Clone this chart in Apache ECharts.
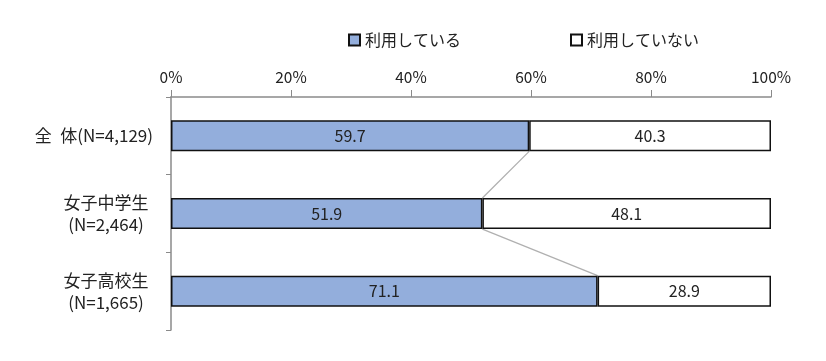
<!DOCTYPE html>
<html><head><meta charset="utf-8">
<script src="https://cdn.jsdelivr.net/npm/echarts@6/dist/echarts.min.js"></script>
<style>html,body{margin:0;padding:0;background:#fff}#c{width:826px;height:361px}</style>
</head><body><div id="c"></div>
<script>
const categories = ['全\u2002体(N=4,129)', '女子中学生\n(N=2,464)', '女子高校生\n(N=1,665)'];
const seriesNames = ['利用している', '利用していない'];
const usingVals = [59.7, 51.9, 71.1];
const notUsingVals = [40.3, 48.1, 28.9];
const xTicks = [0, 20, 40, 60, 80, 100];

const FONT = '"Noto Sans CJK JP", sans-serif';
const BAR_RATIO = 0.4;
const chart = echarts.init(document.getElementById('c'));
chart.setOption({
  animation: false,
  textStyle: { fontFamily: FONT },
  legend: {
    top: 27, left: 343, itemGap: 109,
    itemWidth: 11, itemHeight: 11, icon: 'rect',
    textStyle: { fontSize: 16, color: '#222', fontFamily: FONT },
    data: seriesNames
  },
  grid: { left: 171, right: 55, top: 97, bottom: 31 },
  xAxis: {
    type: 'value', position: 'top', min: 0, max: 100, interval: 20,
    axisLine: { show: true, lineStyle: { color: '#8a8a8a', width: 1.5 } },
    axisTick: { show: true, length: 7, lineStyle: { color: '#8a8a8a' } },
    splitLine: { show: false },
    axisLabel: { fontSize: 15.5, color: '#222', margin: 12, formatter: v => v + '%' }
  },
  yAxis: {
    type: 'category', inverse: true, data: categories,
    axisLine: { show: true, lineStyle: { color: '#8a8a8a', width: 1.5 } },
    axisTick: { show: true, length: 5, lineStyle: { color: '#8a8a8a' } },
    axisLabel: {
      fontSize: 17, color: '#222', margin: 18, lineHeight: 22, align: 'right',
      formatter: v => v.indexOf('\n') >= 0 ? v.split('\n').map(s => '{m|' + s + '}').join('\n') : v,
      rich: { m: { width: 94, align: 'center', fontSize: 17, lineHeight: 22, color: '#222', fontFamily: FONT } }
    }
  },
  series: [
    {
      name: seriesNames[0], type: 'bar', stack: 's', data: usingVals, barWidth: '40%',
      itemStyle: { color: '#93aedc', borderColor: '#111', borderWidth: 1.5 },
      label: { show: true, position: 'inside', fontSize: 16, color: '#222', formatter: p => p.value.toFixed(1) }
    },
    {
      name: seriesNames[1], type: 'bar', stack: 's', data: notUsingVals, barWidth: '40%',
      itemStyle: { color: '#ffffff', borderColor: '#111', borderWidth: 1.5 },
      label: { show: true, position: 'inside', fontSize: 16, color: '#222', formatter: p => p.value.toFixed(1) }
    },
    {
      type: 'custom', silent: true, z: 1,
      data: usingVals.slice(0, -1).map((v, i) => [v, i, usingVals[i + 1], i + 1]),
      renderItem: function (params, api) {
        const a = api.coord([api.value(0), api.value(1)]);
        const b = api.coord([api.value(2), api.value(3)]);
        const h = api.size([0, 1])[1] * BAR_RATIO / 2;
        return {
          type: 'line',
          shape: { x1: a[0], y1: a[1] + h, x2: b[0], y2: b[1] - h },
          style: { stroke: '#b0b0b0', lineWidth: 1.3 }
        };
      }
    }
  ]
});
</script></body></html>
